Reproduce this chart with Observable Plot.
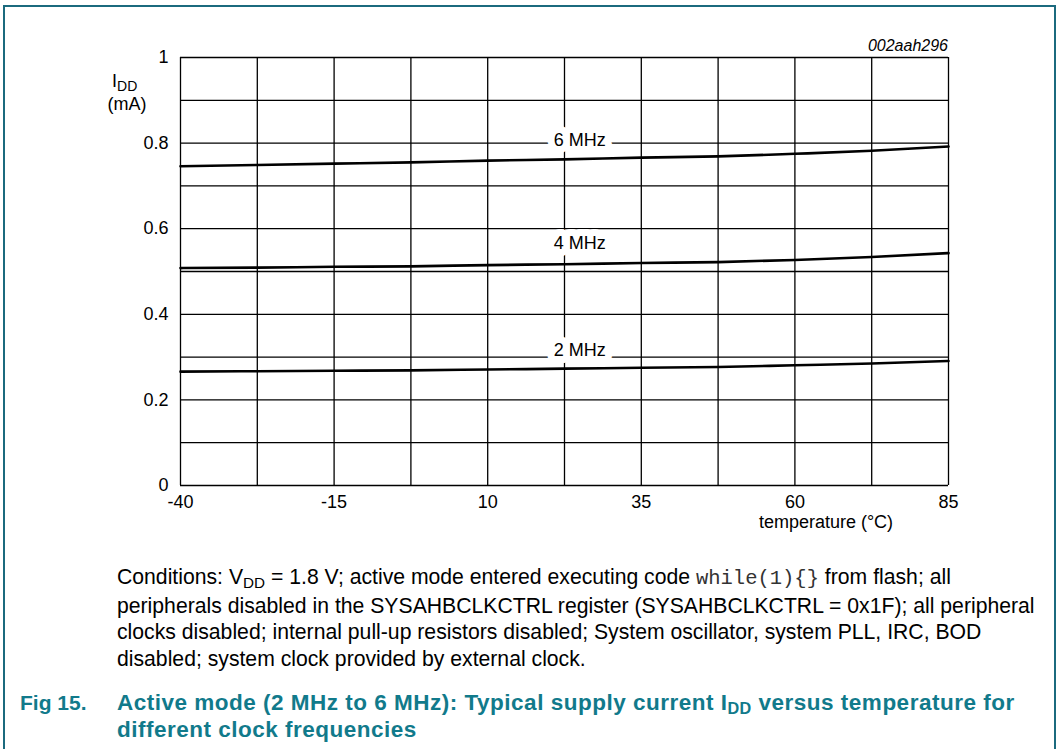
<!DOCTYPE html>
<html>
<head>
<meta charset="utf-8">
<script src="https://cdn.jsdelivr.net/npm/d3@7"></script>
<script src="https://cdn.jsdelivr.net/npm/@observablehq/plot@0.6"></script>
<style>
  html, body { margin: 0; padding: 0; background: #fff; }
  #page { position: relative; width: 1059px; height: 749px; overflow: hidden; font-family: "Liberation Sans", Arial, sans-serif; }
  #frame { position: absolute; left: 3px; top: 5px; width: 1053px; height: 760px; border: 2px solid #1b6a7e; border-bottom: none; box-sizing: border-box; }
  #chart { position: absolute; left: 0; top: 0; }
  #caption { position: absolute; left: 117px; top: 564px; font-size: 21.2px; line-height: 26.7px; color: #000; white-space: nowrap; }
  #caption code { font-family: "Liberation Mono", "DejaVu Sans Mono", monospace; font-size: 20.5px; color: #333; }
  sub { font-size: 0.72em; vertical-align: -0.25em; line-height: 0; }
  #title { position: absolute; left: 20px; top: 689px; font-size: 22.5px; line-height: 27px; font-weight: bold; color: #117a8b; white-space: nowrap; }
  #title .num { position: absolute; left: 0; top: 0; font-size: 21px; }
  #title .txt { position: absolute; left: 97px; top: 0; letter-spacing: 0.5px; }
</style>
</head>
<body>
<div id="page">
  <div id="frame"></div>
  <div id="chart"></div>
  <div id="caption">Conditions: V<sub>DD</sub> = 1.8 V; active mode entered executing code <code>while(1){}</code> from flash; all<br>peripherals disabled in the SYSAHBCLKCTRL register (SYSAHBCLKCTRL = 0x1F); all peripheral<br>clocks disabled; internal pull-up resistors disabled; System oscillator, system PLL, IRC, BOD<br>disabled; system clock provided by external clock.</div>
  <div id="title"><span class="num">Fig 15.</span><span class="txt">Active mode (2 MHz to 6 MHz): Typical supply current I<sub>DD</sub> versus temperature for<br>different clock frequencies</span></div>
</div>
<script>
// ---- data ----
const temps = [-40, -27.5, -15, -2.5, 10, 22.5, 35, 47.5, 60, 72.5, 85];
const mhz6 = [0.746, 0.749, 0.752, 0.755, 0.759, 0.762, 0.766, 0.769, 0.775, 0.782, 0.792];
const mhz4 = [0.508, 0.509, 0.511, 0.512, 0.515, 0.517, 0.520, 0.522, 0.527, 0.534, 0.543];
const mhz2 = [0.266, 0.267, 0.268, 0.269, 0.271, 0.273, 0.275, 0.277, 0.281, 0.285, 0.291];
const seriesNames = ["6 MHz", "4 MHz", "2 MHz"];
const labelX = [25, 25, 25];
const labelY = [0.806, 0.565, 0.315];
const xTicks = [-40, -15, 10, 35, 60, 85];
const xGrid = [-40, -27.5, -15, -2.5, 10, 22.5, 35, 47.5, 60, 72.5, 85];
const yTicks = [0, 0.2, 0.4, 0.6, 0.8, 1];
const yGrid = [0, 0.1, 0.2, 0.3, 0.4, 0.5, 0.6, 0.7, 0.8, 0.9, 1];

const seriesValues = [mhz6, mhz4, mhz2];
const rows = [];
seriesNames.forEach((name, i) => {
  temps.forEach((t, j) => rows.push({ series: name, t, v: seriesValues[i][j] }));
});
const labels = seriesNames.map((name, i) => ({ name, x: labelX[i], y: labelY[i] }));

const plot = Plot.plot({
  width: 1059,
  height: 540,
  marginLeft: 180,
  marginRight: 111,
  marginTop: 57,
  marginBottom: 55,
  style: { fontFamily: "Liberation Sans, Arial, sans-serif", fontSize: "18px", color: "#000", background: "transparent" },
  x: { domain: [-40, 85], label: null },
  y: { domain: [0, 1], label: null },
  marks: [
    Plot.ruleX(xGrid, { x: d => d, stroke: "#000", strokeWidth: 1.3 }),
    Plot.ruleY(yGrid, { y: d => d, stroke: "#000", strokeWidth: 1.3 }),
    Plot.axisX({ ticks: xTicks, tickSize: 0, tickPadding: 10, fontSize: 18, tickFormat: d => String(d), label: null }),
    Plot.axisY({ ticks: yTicks, tickSize: 0, tickPadding: 12, fontSize: 18, tickFormat: d => d === 0 ? "0" : d === 1 ? "1" : d.toFixed(1), label: null }),
    Plot.line(rows, { x: "t", y: "v", z: "series", stroke: "#000", strokeWidth: 2.6, curve: "monotone-x" }),
    Plot.text(labels, { x: "x", y: "y", text: "name", fill: "#000", stroke: "#fff", strokeWidth: 14, fontSize: 18 })
  ]
});
document.getElementById("chart").appendChild(plot);

const svg = d3.select(plot);
svg.append("text")
  .attr("x", 826).attr("y", 528)
  .attr("text-anchor", "middle")
  .attr("font-size", 18)
  .text("temperature (°C)");
svg.append("text")
  .attr("x", 948).attr("y", 51)
  .attr("text-anchor", "end")
  .attr("font-size", 16)
  .attr("font-style", "italic")
  .text("002aah296");
const idd = svg.append("text").attr("x", 112).attr("y", 87).attr("font-size", 18).attr("text-anchor", "start");
idd.append("tspan").text("I");
idd.append("tspan").attr("font-size", 14).attr("dy", 4).text("DD");
svg.append("text")
  .attr("x", 127).attr("y", 110)
  .attr("text-anchor", "middle")
  .attr("font-size", 18)
  .text("(mA)");
</script>
</body>
</html>
